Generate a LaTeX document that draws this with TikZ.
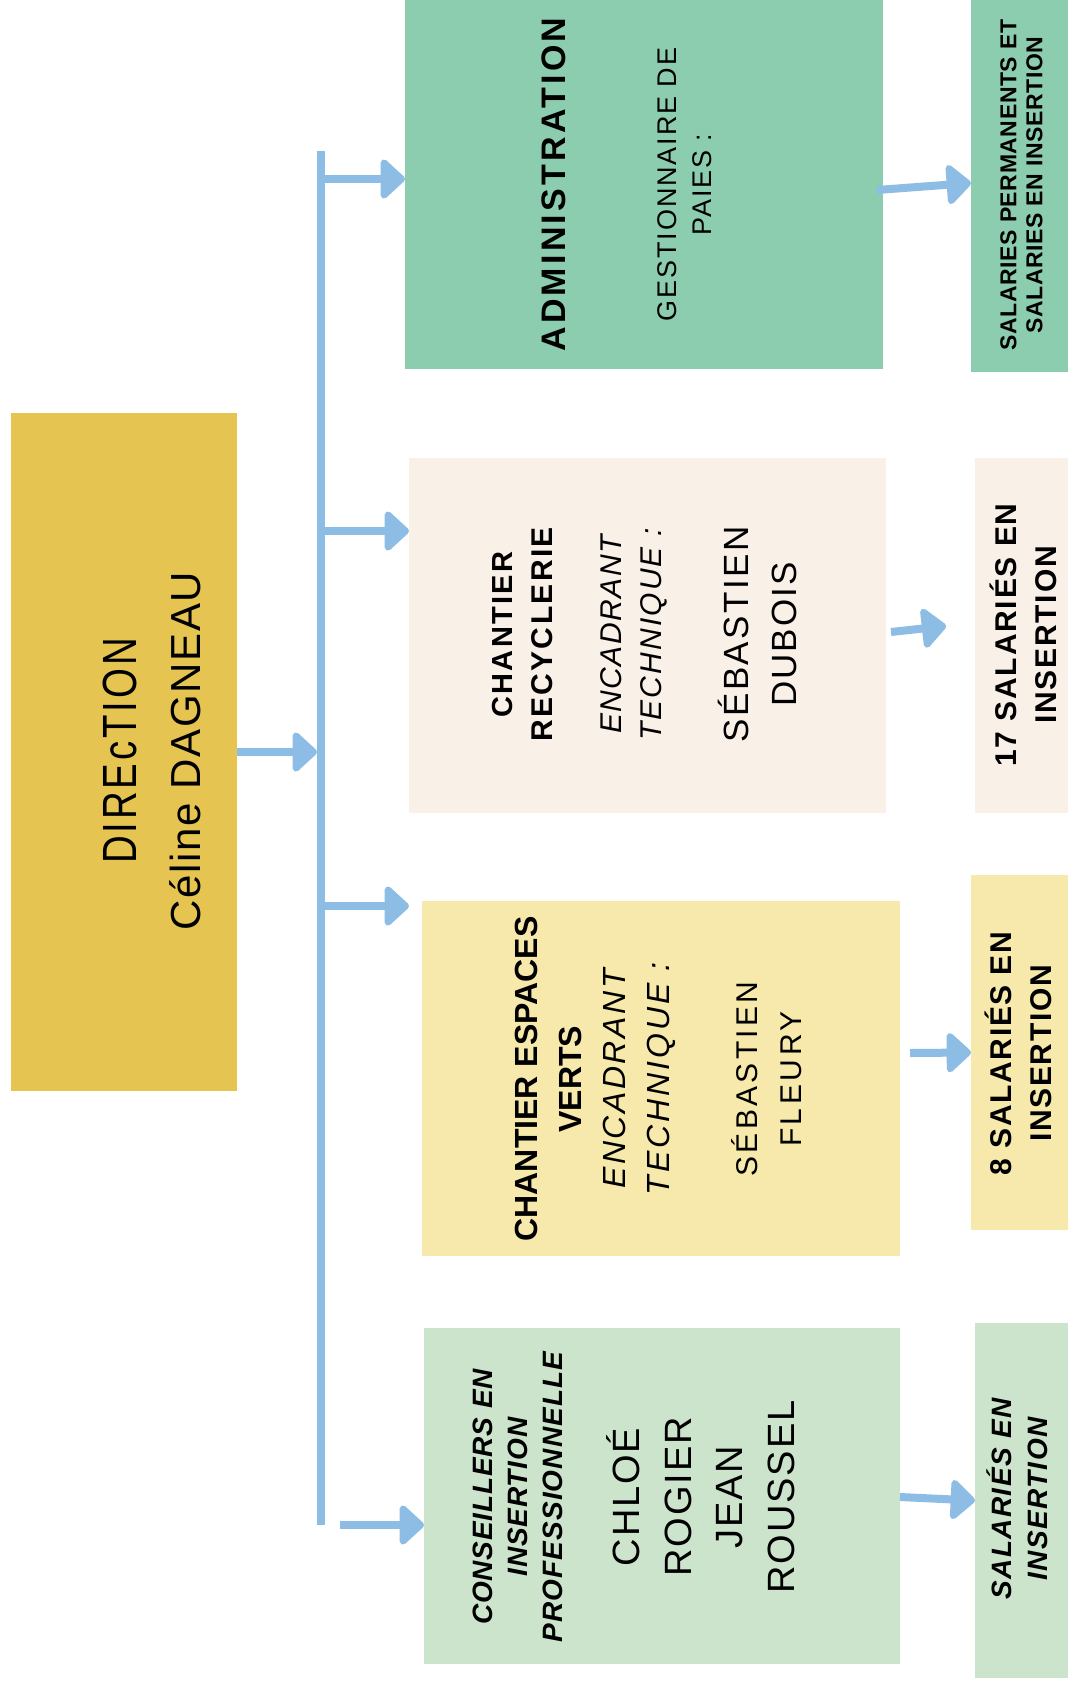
\documentclass[tikz,border=0pt]{standalone}
\usepackage{fontspec}
\setmainfont{Liberation Sans}
\newfontfamily\dirfont[FakeStretch=0.8]{Liberation Sans}
\usetikzlibrary{arrows.meta}
\definecolor{dirfill}{HTML}{E5C451}
\definecolor{admfill}{HTML}{8CCDB0}
\definecolor{recfill}{HTML}{F9F0E8}
\definecolor{espfill}{HTML}{F6E9AB}
\definecolor{cipfill}{HTML}{CDE4CC}
\definecolor{arrowblue}{HTML}{8DBDE5}
\newcommand{\ls}[1]{\addfontfeatures{LetterSpace=#1}}
\newcommand{\fsz}[2]{\fontsize{#1}{#2}\selectfont}

\begin{document}
\begin{tikzpicture}[x=1pt, y=1pt,
		panel/.style={rectangle, inner sep=0pt, outer sep=0pt},
		lbl/.style={rotate=90, align=center, inner sep=0pt},
		busline/.style={line width=8pt, draw=arrowblue},
		arr/.style={line width=8pt, draw=arrowblue, -{Triangle[length=26pt, width=46pt, round]}}]
		\path[use as bounding box, fill=white] (0,0) rectangle (1068,-1686);
		% boxes
		\node[panel, fill=dirfill, minimum width=226pt, minimum height=678pt] (dir) at (124,-752) {};
		\node[panel, fill=admfill, minimum width=478pt, minimum height=369pt] (adm) at (644,-184.5) {};
		\node[panel, fill=recfill, minimum width=477pt, minimum height=355pt] (rec) at (647.5,-635.5) {};
		\node[panel, fill=espfill, minimum width=478pt, minimum height=355pt] (esp) at (661,-1078.5) {};
		\node[panel, fill=cipfill, minimum width=476pt, minimum height=336pt] (cip) at (662,-1496) {};
		\node[panel, fill=admfill, minimum width=97pt, minimum height=372pt] (admR) at (1019.5,-186) {};
		\node[panel, fill=recfill, minimum width=93pt, minimum height=355pt] (recR) at (1021.5,-635.5) {};
		\node[panel, fill=espfill, minimum width=97pt, minimum height=355pt] (espR) at (1019.5,-1052.5) {};
		\node[panel, fill=cipfill, minimum width=93pt, minimum height=355pt] (cipR) at (1021.5,-1500.5) {};
		% texts
		\node[lbl, font={\fsz{42}{64}}] (dirT) at (152,-751)
			{{\dirfont\fsz{48}{64}\ls{6}DIREcTION}\\{\ls{4}Céline DAGNEAU}};
		\node[lbl, font={\fsz{27}{35}}] (admT) at (627,-184.5)
			{{\fsz{34}{35}\bfseries\ls{9.5}ADMINISTRATION}\\[76pt]
			{\ls{7}GESTIONNAIRE DE}\\{\ls{7}PAIES :}};
		\node[lbl, font={\fsz{30}{40}}] (recT) at (645,-634.5)
			{{\fsz{29}{40}\bfseries\ls{8}CHANTIER}\\{\bfseries\ls{8}RECYCLERIE}\\[29pt]
			{\itshape\ls{5}ENCADRANT}\\{\itshape\ls{7}TECHNIQUE :}\\[47pt]
			{\fsz{35}{40}\ls{7}SÉBASTIEN}\\[8pt]{\fsz{35}{40}\ls{6}DUBOIS}};
		\node[lbl, font={\fsz{32}{44}}] (espT) at (658.5,-1079)
			{{\bfseries CHANTIER ESPACES}\\{\bfseries VERTS}\\
			{\itshape\ls{8}ENCADRANT}\\{\itshape\ls{9}TECHNIQUE :}\\[44pt]
			{\fsz{30}{44}\ls{11}SÉBASTIEN}\\{\fsz{30}{44}\ls{12}FLEURY}};
		\node[lbl, font={\fsz{28}{35}}] (cipT) at (633.5,-1497)
			{{\bfseries\itshape\ls{3}CONSEILLERS EN}\\{\bfseries\itshape\ls{3}INSERTION}\\
			{\bfseries\itshape\ls{4}PROFESSIONNELLE}\\[42pt]
			{\fsz{38}{35}\ls{5}CHLOÉ}\\[17pt]{\fsz{38}{35}\ls{5}ROGIER}\\[16pt]
			{\fsz{38}{35}\ls{5}JEAN}\\[17pt]{\fsz{38}{35}\ls{5}ROUSSEL}};
		\node[lbl, font={\fsz{23}{26}\bfseries}] (admRT) at (1021.5,-185)
			{{\ls{2.5}SALARIES PERMANENTS ET}\\{\ls{2.5}SALARIES EN INSERTION}};
		\node[lbl, font={\fsz{30}{40}\bfseries}] (recRT) at (1023,-635)
			{{\ls{6}17 SALARIÉS EN}\\{\ls{6}INSERTION}};
		\node[lbl, font={\fsz{30}{40}\bfseries}] (espRT) at (1018,-1053.5)
			{{\ls{5.5}8 SALARIÉS EN}\\{\ls{5.5}INSERTION}};
		\node[lbl, font={\fsz{28}{36}\bfseries\itshape}] (cipRT) at (1017,-1499)
			{{\ls{5}SALARIÉS EN}\\{\ls{5}INSERTION}};
		% connectors
		\coordinate (bt) at (321,-151);
		\coordinate (bb) at (321,-1525);
		\coordinate (b1) at (321,-179);
		\coordinate (b2) at (321,-531);
		\coordinate (b3) at (321,-906);
		\coordinate (b4) at (340,-1525);
		\draw[busline] (bt) -- (bb);
		\draw[arr, shorten >=4pt] (dir.east) -- (dir.east -| bt);
		\draw[arr] (b1) -- (b1 -| adm.west);
		\draw[arr] (b2) -- (b2 -| rec.west);
		\draw[arr, shorten >=13pt] (b3) -- (b3 -| esp.west);
		\draw[arr] (b4) -- (b4 -| cip.west);
		\coordinate (a1) at (877,-190);
		\coordinate (r1) at (891,-632);
		\coordinate (e1) at (910,-1053);
		\coordinate (c1) at (900,-1497);
		\draw[arr] (a1) -- ([yshift=3pt]admR.west);
		\draw[arr, shorten >=29pt] (r1) -- ([yshift=12.7pt]recR.west);
		\draw[arr] (e1) -- (espR.west);
		\draw[arr] (c1) -- (cipR.west);
	\end{tikzpicture}
\end{document}
